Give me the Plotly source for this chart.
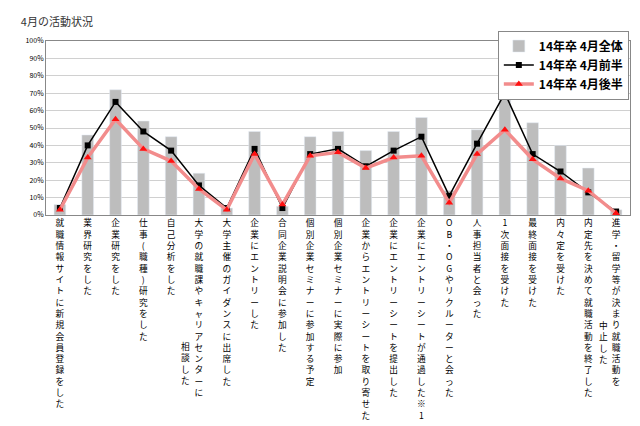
import plotly.graph_objects as go

categories = ["就職情報サイトに新規会員登録をした","業界研究をした","企業研究をした","仕事(職種)研究をした","自己分析をした",
"大学の就職課やキャリアセンターに","大学主催のガイダンスに出席した","企業にエントリーした","合同企業説明会に参加した",
"個別企業セミナーに参加する予定","個別企業セミナーに実際に参加","企業からエントリーシートを取り寄せた","企業にエントリーシートを提出した",
"企業にエントリーシートが通過した※1","OB・OGやリクルーターと会った","人事担当者と会った","1次面接を受けた","最終面接を受けた",
"内々定を受けた","内定先を決めて就職活動を終了した","進学・留学等が決まり就職活動を"]
extra_cols = {5: "相談した", 20: "中止した"}
total = [6,46,72,54,45,24,4,48,5,45,48,37,48,56,14,49,78,53,40,27,3]
first_half = [4,40,65,48,37,17,4,38,4,35,38,28,37,45,11,41,70,35,25,13,2]
second_half = [3,33,55,38,31,15,3,35,6,34,36,27,33,34,7,35,49,32,21,14,1]
yticks = list(range(0,101,10))

x = list(range(len(categories)))
fig = go.Figure()
fig.add_bar(x=x, y=total, name="<b>14年卒 4月全体</b>", marker_color="#bdbdbd", width=0.42)
fig.add_scatter(x=x, y=first_half, name="<b>14年卒 4月前半</b>", mode="lines+markers",
                line=dict(color="black", width=1.5), marker=dict(symbol="square", size=6, color="black"))
fig.add_scatter(x=x, y=second_half, name="<b>14年卒 4月後半</b>", mode="lines+markers",
                line=dict(color="#f28c8c", width=3.5), marker=dict(symbol="triangle-up", size=7, color="#ff1010"))

def vert(s):
    return "<br>".join(ch for ch in s)

fig.update_xaxes(tickvals=x, ticktext=[vert(c) for c in categories], tickangle=0,
                 tickfont=dict(size=8.7, color="black"), range=[-0.5, len(x)-0.5],
                 showline=True, linecolor="#888", mirror=True, ticks="")
fig.update_yaxes(range=[0,100], tickvals=yticks, ticktext=[f"{v}%" for v in yticks],
                 tickfont=dict(size=7, color="black"), gridcolor="#d0d0d0",
                 showline=True, linecolor="#888", mirror=True, zeroline=False)
for i, t in extra_cols.items():
    ybot = -1.0 if i == 5 else -0.88
    fig.add_annotation(x=i, xref="x", xshift=-13, y=ybot, yref="paper", yanchor="bottom",
                       text=vert(t), showarrow=False, font=dict(size=8.7, color="black"), align="center")
fig.update_layout(
    width=640, height=426, margin=dict(l=38, r=18, t=33, b=194),
    paper_bgcolor="white", plot_bgcolor="white", bargap=0.5,
    font=dict(family="Noto Sans CJK JP"),
    title=dict(text="4月の活動状況", x=0.02, xanchor="left", y=0.975, font=dict(size=11, color="#333")),
    showlegend=True,
    legend=dict(x=0.998, y=1.06, xanchor="right", yanchor="top", bordercolor="#888", borderwidth=1,
                bgcolor="white", font=dict(size=12, color="black")),
)
fig.write_html("out.html")
